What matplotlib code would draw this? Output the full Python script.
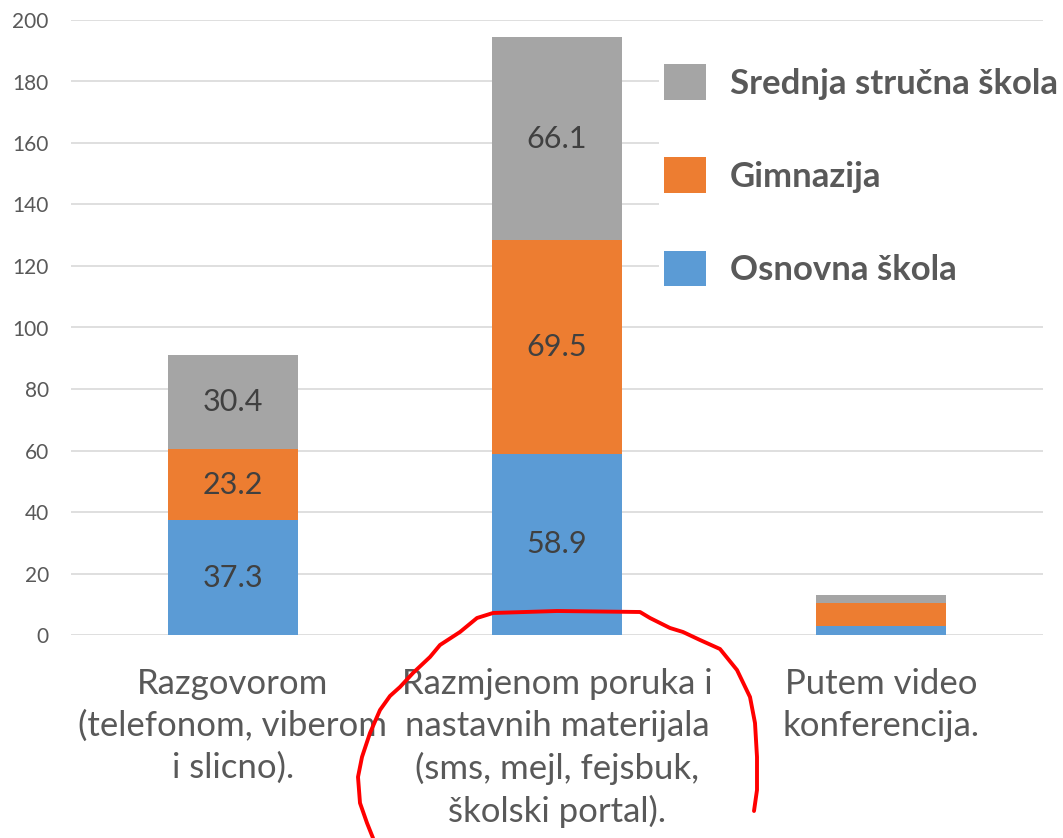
import matplotlib.pyplot as plt
import numpy as np
from matplotlib.lines import Line2D

plt.rcParams['font.family'] = ['Lato', 'DejaVu Sans']

categories = ['Razgovorom\n(telefonom, viberom\ni slicno).',
              'Razmjenom poruka i\nnastavnih materijala\n(sms, mejl, fejsbuk,\nškolski portal).',
              'Putem video\nkonferencija.']
osnovna = [37.3, 58.9, 3.0]
gimnazija = [23.2, 69.5, 7.3]
srednja = [30.4, 66.1, 2.7]
series_names = ['Osnovna škola', 'Gimnazija', 'Srednja stručna škola']
colors = ['#5B9BD5', '#ED7D31', '#A5A5A5']
yticks = [0, 20, 40, 60, 80, 100, 120, 140, 160, 180, 200]

# hand drawn red mark on the screenshot (figure pixels)
scribble_x = [373, 367, 360, 358, 362, 370, 380, 390, 400, 413, 430, 440, 460, 477, 493,
              557, 640, 650, 670, 683, 700, 720, 737, 750, 755, 757, 757, 754]
scribble_y = [838, 823, 803, 777, 757, 733, 710, 696, 687, 673, 657, 645, 632, 618, 613,
              611, 612, 618, 628, 632, 640, 649, 670, 697, 723, 757, 790, 811]

W, H = 1063, 838
fig = plt.figure(figsize=(W / 100, H / 100), dpi=100)
ax = fig.add_axes([71 / W, 1 - 635 / H, (1043 - 71) / W, (635 - 20) / H])

x = np.arange(len(categories))
bottom = np.zeros(len(categories))
bars = []
for vals, name, c in zip([osnovna, gimnazija, srednja], series_names, colors):
    b = ax.bar(x, vals, 0.4, bottom=bottom, color=c, label=name, zorder=3)
    for xi, v, b0 in zip(x, vals, bottom):
        if v > 10:
            ax.text(xi, b0 + v / 2, f'{v:.1f}', ha='center', va='center',
                    fontsize=22, color='#404040', zorder=4)
    bottom += np.array(vals)
    bars.append(b)

ax.set_xlim(-0.5, 2.5)
ax.set_ylim(0, 200)
ax.set_yticks(yticks)
ax.set_xticks(x)
ax.set_xticklabels(categories, fontsize=25, color='#595959', linespacing=1.37)
ax.tick_params(axis='y', labelsize=15, labelcolor='#595959', length=0, pad=16)
ax.tick_params(axis='x', length=0, pad=24)
ax.grid(axis='y', color='#D9D9D9', linewidth=1.2, zorder=0)
for s in ax.spines.values():
    s.set_visible(False)

handles = bars[::-1]
leg = fig.legend(handles, series_names[::-1], loc='upper left',
                 bbox_to_anchor=((664 - 5) / W, 1 - (64 - 5) / H),
                 frameon=True, fancybox=False, edgecolor='none', facecolor='white', framealpha=1,
                 prop={'size': 25, 'weight': 'bold'}, handlelength=1.2, handleheight=1.2,
                 labelspacing=1.66, handletextpad=0.7, borderpad=0.15, borderaxespad=0)
for t in leg.get_texts():
    t.set_color('#595959')

fig.add_artist(Line2D(np.array(scribble_x) / W, 1 - np.array(scribble_y) / H,
                      color='red', linewidth=2.8, solid_joinstyle='round',
                      solid_capstyle='round', transform=fig.transFigure))

fig.savefig('out.png', dpi=100)
